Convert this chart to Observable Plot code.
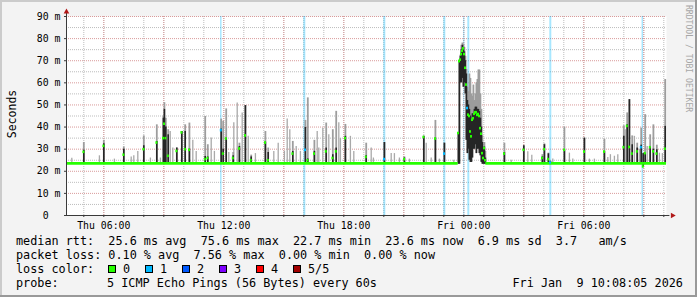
<!DOCTYPE html>
<html><head><meta charset="utf-8">
<script src="https://cdn.jsdelivr.net/npm/d3@7"></script>
<script src="https://cdn.jsdelivr.net/npm/@observablehq/plot@0.6"></script>
<style>
html,body{margin:0;padding:0;background:#f3f3f3;}
#chart{position:relative;width:697px;height:297px;overflow:hidden;}
#chart svg text{white-space:pre;}
</style></head><body><div id="chart"></div>
<script>
// ---------- data (hours since Thu 2026-01-08 00:00, values in ms) ----------
const spikeHour = [5.00,6.00,7.00,8.00,8.65,8.98,9.03,9.10,9.22,9.65,9.90,10.07,10.28,11.07,11.20,11.87,11.97,12.12,12.47,12.78,13.08,13.37,14.08,14.22,15.45,16.08,16.20,16.53,17.12,17.45,17.62,18.08,19.12,20.03,21.03,22.00,22.58,23.03,
  23.73,23.78,23.83,23.88,23.93,23.98,24.03,24.08,24.13,24.18,24.23,24.28,24.33,24.38,24.43,24.48,24.53,24.58,24.63,24.68,24.73,24.78,24.83,24.88,24.93,24.98,25.03,25.08,
  26.03,27.00,27.93,28.03,28.23,28.33,29.03,30.03,31.03,32.00,32.17,32.28,32.42,32.67,32.87,32.97,33.07,33.32,33.48,33.65,34.07];
const spikeMedian = [28.8,31.5,27.5,30.0,33.0,35.0,41.5,35.0,27.0,29.2,37.6,30.0,29.7,25.5,26.0,38.6,28.0,34.8,26.0,30.3,36.2,25.0,33.0,25.0,28.0,29.7,25.0,28.0,29.0,26.0,29.0,35.0,26.5,25.5,25.5,35.5,34.8,28.0,
  37.3,69.8,70.5,73.0,74.5,75.6,73.0,66.8,59.2,48.6,45.6,45.0,38.0,35.8,43.3,44.0,46.0,46.7,46.7,45.5,45.9,45.0,39.5,37.0,28.2,26.0,30.5,25.0,
  28.0,29.7,26.0,30.0,25.5,24.0,29.7,28.9,28.9,30.9,40.5,31.0,28.0,29.0,30.9,22.2,28.2,30.9,29.0,28.0,30.2];
const spikeDark = [29.5,32.5,30.0,31.5,33.5,44.0,48.0,40.0,36.5,30.5,38.0,38.0,30.0,26.7,26.5,39.1,30.0,35.0,27.0,31.2,49.7,26.5,33.2,28.5,29.0,39.8,25.5,29.0,30.5,27.5,30.5,35.8,27.0,33.0,26.0,35.8,35.0,32.7,
  37.3,69.8,72.0,75.0,77.0,76.0,74.0,70.0,64.0,52.0,50.0,48.0,45.0,43.0,46.0,46.0,48.0,49.0,49.0,48.0,48.0,47.0,44.0,40.0,33.0,30.0,31.0,26.0,
  28.5,31.5,26.5,32.0,27.9,24.5,29.7,35.0,28.9,35.8,41.0,52.4,32.0,30.5,31.8,28.0,28.0,30.9,30.0,29.7,40.3];
const spikeGray = [33.0,34.0,31.0,36.0,41.0,45.0,51.0,44.0,38.8,30.5,38.0,41.0,41.8,44.8,32.0,43.6,42.6,48.2,28.5,32.7,49.7,27.3,38.0,30.5,33.5,43.0,53.2,34.0,41.8,38.8,47.1,41.2,32.7,33.0,26.5,35.8,43.0,32.7,
  37.3,70.5,72.5,77.0,78.0,77.5,76.0,72.0,66.0,58.0,56.0,64.0,62.0,55.0,54.0,59.0,52.0,55.0,60.0,61.5,65.8,65.8,55.0,48.0,36.0,31.0,33.0,29.0,
  32.7,31.5,27.5,32.4,28.2,24.5,40.0,35.0,34.5,40.6,46.4,52.4,36.0,32.7,39.5,28.0,45.6,36.5,41.0,31.8,61.5];
const spikeLow = [23.2,23.2,23.2,23.2,23.2,23.2,23.2,23.2,23.2,23.2,23.2,23.2,23.2,23.2,23.2,23.2,23.2,23.2,23.2,23.2,23.2,23.2,23.2,23.2,23.2,23.2,23.2,23.2,23.2,23.2,23.2,23.2,23.2,23.2,23.2,23.2,23.2,23.2,
  23.2,23.2,60,60,62,58,60,55,34,28,30,25,24,24,26,30,30,32,28,30,30,28,27,24,23.2,23.2,23.2,23.2,
  23.2,23.2,23.2,23.2,23.2,23.2,23.2,23.2,23.2,23.2,23.2,23.2,23.2,23.2,23.2,22.0,23.2,23.2,23.2,23.2,23.2];
const medianLossHour = [11.87,16.08,20.03,23.03,24.18,28.33,32.87];

const blipHour = [4.4,5.78,6.53,7.37,7.5,7.7,8.33,8.83,9.32,9.45,10.45,10.62,11.37,11.53,12.25,12.5,12.67,12.92,13.22,13.58,14.5,14.72,15.03,15.17,15.3,15.62,15.83,16.67,16.75,16.95,17.25,17.75,17.83,18.33,18.5,19.37,19.48,20.37,20.53,20.78,21.28,22.12,22.37,22.78,23.5,26.37,27.2,27.4,28.45,29.28,29.45,30.28,30.53,31.2,31.33,31.53,31.7,32.07,32.53,32.78,33.17,33.78,33.93];
const blipTop = [25.9,27,25.5,26.5,27,29,26,26,38,30.5,34,29,35,29,28.5,42,50.9,46.4,35.8,28,29,32.7,29,43.6,38.8,31.2,29,38,30.5,39.5,36.5,42,34.8,35.8,29,30.5,26,28,28,26,25.5,32.7,26,25.5,25,25,28.8,27.3,25.5,28.2,25.5,25.5,25.5,26.2,27.5,26.8,27.5,38.8,35.8,30,31.2,28.2,28];

const baselineMedian = 23.6;
const baseStartHour = [null, 25.1];   // null = start of graph
const baseEndHour = [23.72, null];    // null = end of graph

const lossHour = [11.8375,16.0,20.0,23.0,24.0,24.2,28.3,32.9125];
const lossMinutes = [4.5,6,6,6,3,6,6,4.5];

const yTicks = [0,10,20,30,40,50,60,70,80,90];
const yMinor = [5,15,25,35,45,55,65,75,85];

const legendLine1 = "median rtt:  25.6 ms avg  75.6 ms max  22.7 ms min  23.6 ms now  6.9 ms sd  3.7   am/s";
const legendLine2 = "packet loss: 0.10 % avg  7.56 % max  0.00 % min  0.00 % now";
const legendLine3 = "loss color:";
const legendLine4a = "probe:";
const legendLine4b = "5 ICMP Echo Pings (56 Bytes) every 60s";
const legendDate = "Fri Jan  9 10:08:05 2026";
const lossLabels = ["0","1","2","3","4","5/5"];
const lossColors = ["#26ff00","#00b8ff","#0059ff","#7e00ff","#ff0000","#a10000"];
const unitLabel = "Seconds";
const watermark = "RRDTOOL / TOBI OETIKER";

// ---------- build ----------
const T0 = Date.UTC(2026, 0, 8);
const toTime = h => new Date(T0 + h * 3600e3);
const endHour = 34 + 8/60 + 5/3600;
const startHour = endHour - 30;
const domain = [toTime(startHour), toTime(endHour)];

const spikes = spikeHour.map((h, i) => ({h, t: toTime(h), med: spikeMedian[i], dark: spikeDark[i], gray: spikeGray[i], low: spikeLow[i], loss: medianLossHour.includes(h)}));
const blips = blipHour.map((h, i) => ({t: toTime(h), top: blipTop[i]}));
const losses = lossHour.map((h, i) => ({t1: toTime(h), t2: toTime(h + lossMinutes[i] / 60)}));
const baseSegs = baseStartHour.map((s, i) => ({t1: toTime(s ?? startHour), t2: toTime(baseEndHour[i] ?? endHour), v: baselineMedian}));

const hourTicks = d3.utcHour.every(1).range(domain[0], domain[1]);
const threeTicks = d3.utcHour.every(3).range(domain[0], domain[1]);
const sixTicks = d3.utcHour.every(6).range(domain[0], domain[1]);
const axisEnd = toTime(endHour + 0.17);
const arrowX = toTime(endHour + 0.3);

const axisColor = "#3a3a3a";
const arrowColor = "#b01818";
const minorGrid = "#bdbdbd";
const majorGrid = "#d99a9a";

const plot = Plot.plot({
  width: 697, height: 297,
  marginLeft: 66, marginRight: 31, marginTop: 16, marginBottom: 82,
  x: {type: "utc", domain},
  y: {domain: [0, 90]},
  style: {background: "#f3f3f3", fontFamily: "'DejaVu Sans Mono', monospace", color: "#000", overflow: "visible"},
  marks: [
    Plot.frame({fill: "#fff", stroke: "none"}),
    Plot.gridX({ticks: hourTicks, stroke: minorGrid, strokeOpacity: 1, strokeDasharray: "1,1"}),
    Plot.gridY({ticks: yMinor, stroke: minorGrid, strokeOpacity: 1, strokeDasharray: "1,1"}),
    Plot.gridX({ticks: threeTicks, stroke: majorGrid, strokeOpacity: 1, strokeDasharray: "1,1"}),
    Plot.gridY({ticks: yTicks.slice(1), stroke: majorGrid, strokeOpacity: 1, strokeDasharray: "1,1"}),
    Plot.rect(losses, {x1: "t1", x2: "t2", y1: 0, y2: 90, fill: lossColors[1], fillOpacity: 0.34}),
    Plot.ruleX(blips, {x: "t", y1: 23.2, y2: "top", stroke: "#a9a9a9", strokeWidth: 1.3}),
    Plot.ruleX(spikes, {x: "t", y1: "low", y2: "gray", stroke: "#9d9d9d", strokeWidth: 1.8}),
    Plot.ruleX(spikes, {x: "t", y1: "low", y2: "dark", stroke: "#262626", strokeWidth: 1.6}),
    Plot.ruleY(baseSegs, {y: "v", x1: "t1", x2: "t2", stroke: lossColors[0], strokeWidth: 2.7}),
    Plot.ruleY(spikes.filter(d => !d.loss), {y: "med", x1: d => toTime(d.h - 0.045), x2: d => toTime(d.h + 0.055), stroke: lossColors[0], strokeWidth: 2.6}),
    Plot.ruleY(spikes.filter(d => d.loss), {y: "med", x1: d => toTime(d.h - 0.045), x2: d => toTime(d.h + 0.055), stroke: lossColors[1], strokeWidth: 2.6}),
    Plot.ruleX([domain[0]], {y1: 0, y2: 92.6, stroke: axisColor, strokeWidth: 1}),
    Plot.ruleY([0], {x1: domain[0], x2: axisEnd, stroke: axisColor, strokeWidth: 1}),
    Plot.dot([0], {x: domain[0], y: 92.1, symbol: "triangle", r: 2.1, fill: arrowColor, stroke: "none"}),
    Plot.dot([0], {x: arrowX, y: 0, symbol: "triangle", r: 2.1, rotate: 90, fill: arrowColor, stroke: "none"}),
    Plot.axisX({ticks: hourTicks, tickSize: 2, tickFormat: () => "", label: null, stroke: axisColor}),
    Plot.axisX({ticks: sixTicks, tickSize: 0, tickPadding: 6, tickFormat: d3.utcFormat("%a %H:%M"), fontSize: 9.85, label: null}),
    Plot.axisY({ticks: yTicks, tickSize: 2, tickPadding: 4, tickFormat: d => d === 0 ? "0\u00a0\u00a0" : `${d} m`, fontSize: 9.85, label: null, stroke: axisColor})
  ]
});

document.getElementById("chart").appendChild(plot);

const svg = d3.select(plot);
// 3D border
svg.append("rect").attr("x", 0).attr("y", 0).attr("width", 697).attr("height", 2).attr("fill", "#cbcbcb");
svg.append("rect").attr("x", 0).attr("y", 0).attr("width", 2).attr("height", 297).attr("fill", "#cbcbcb");
svg.append("rect").attr("x", 0).attr("y", 295).attr("width", 697).attr("height", 2).attr("fill", "#999");
svg.append("rect").attr("x", 695).attr("y", 0).attr("width", 2).attr("height", 297).attr("fill", "#999");

svg.append("text").attr("transform", "translate(15.5,114) rotate(-90)")
  .attr("text-anchor", "middle").attr("font-size", 11.5).attr("fill", "#000").text(unitLabel);
svg.append("text").attr("transform", "translate(686,5) rotate(90)").attr("text-anchor", "start")
  .attr("font-size", 8.1).attr("fill", "#a6a6a6").text(watermark);

const lg = svg.append("g").attr("font-size", 11.8).attr("fill", "#000").attr("text-anchor", "start")
  .attr("font-family", "'DejaVu Sans Mono', monospace");
lg.append("text").attr("x", 16).attr("y", 245).text(legendLine1);
lg.append("text").attr("x", 16).attr("y", 259).text(legendLine2);
lg.append("text").attr("x", 16).attr("y", 273).text(legendLine3);
lossLabels.forEach((lab, i) => {
  const x0 = 108.5 + i * 37;
  lg.append("rect").attr("x", x0).attr("y", 265.5).attr("width", 7).attr("height", 7)
    .attr("fill", lossColors[i]).attr("stroke", "#000").attr("stroke-width", 1);
  lg.append("text").attr("x", x0 + 14.5).attr("y", 273).text(lab);
});
lg.append("text").attr("x", 16).attr("y", 287).text(legendLine4a);
lg.append("text").attr("x", 107).attr("y", 287).text(legendLine4b);
lg.append("text").attr("x", 512.5).attr("y", 287).text(legendDate);
</script></body></html>
